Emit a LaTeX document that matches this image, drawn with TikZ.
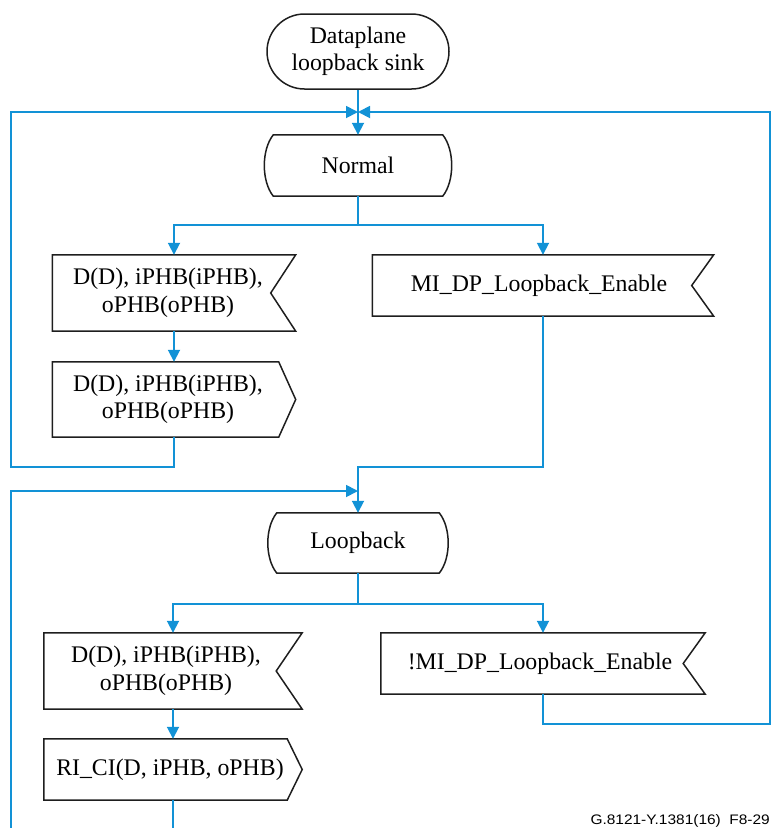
\documentclass[tikz,border=0pt]{standalone}
\usepackage{fontspec}
\usepackage{graphicx}
\setmainfont{Liberation Serif}
\newfontfamily\figidfont{Liberation Sans}
\usetikzlibrary{arrows.meta,calc,shapes.misc}
\definecolor{flowblue}{RGB}{18,146,214}
\definecolor{edgeblack}{RGB}{30,30,30}

\begin{document}
\begin{tikzpicture}[x=1pt,y=-1pt,
  every node/.style={font=\fontsize{23.8}{27.5}\selectfont, align=center, inner sep=0pt},
  area/.style={rectangle, draw=none},
  outline/.style={draw=edgeblack, line width=1.5pt, line join=miter},
  terminal/.style={rounded rectangle, outline},
  flow/.style={draw=flowblue, line width=1.8pt},
  arr/.style={flow, -{Triangle[length=12pt,width=12pt]}}]

\useasboundingbox (0,0) rectangle (771,828);

% start symbol
\node[terminal, minimum width=182pt, minimum height=75pt] (start) at (358,51.5) {Dataplane\\loopback sink};

% state Normal
\node[area, minimum width=169pt, minimum height=61pt] (normal) at (358,165.5) {Normal};
\draw[outline] (normal.north west) -- (normal.north east)
  .. controls +(12,15) and +(12,-15) .. (normal.south east)
  -- (normal.south west)
  .. controls +(-12,-15) and +(-12,15) .. (normal.north west) -- cycle;

% input D(D)... (Normal branch)
\node[area, minimum width=243pt, minimum height=76pt] (in1) at (174,293) {};
\node (in1t) at ($(in1)+(-6,0)$) {D(D), iPHB(iPHB),\\oPHB(oPHB)};
\draw[outline] (in1.north west) -- (in1.north east) -- ($(in1.east)+(-25,0)$)
  -- (in1.south east) -- (in1.south west) -- cycle;

% output D(D)...
\node[area, minimum width=243pt, minimum height=75pt] (out1) at (174,399.5) {};
\node (out1t) at ($(out1)+(-6,0)$) {D(D), iPHB(iPHB),\\oPHB(oPHB)};
\draw[outline] (out1.north west) -- ($(out1.north east)+(-17,0)$) -- (out1.east)
  -- ($(out1.south east)+(-17,0)$) -- (out1.south west) -- cycle;

% input MI_DP_Loopback_Enable
\node[area, minimum width=341pt, minimum height=61pt] (en) at (543,285.5) {};
\node (ent) at ($(en)+(-4,0)$) {MI\_DP\_Loopback\_Enable};
\draw[outline] (en.north west) -- (en.north east) -- ($(en.east)+(-22,0)$)
  -- (en.south east) -- (en.south west) -- cycle;

% state Loopback
\node[area, minimum width=162pt, minimum height=60pt] (loop) at (358,543) {Loopback};
\draw[outline] (loop.north west) -- (loop.north east)
  .. controls +(12,15) and +(12,-15) .. (loop.south east)
  -- (loop.south west)
  .. controls +(-12,-15) and +(-12,15) .. (loop.north west) -- cycle;

% input D(D)... (Loopback branch)
\node[area, minimum width=258pt, minimum height=76pt] (in2) at (173,671) {};
\node (in2t) at ($(in2)+(-7,0)$) {D(D), iPHB(iPHB),\\oPHB(oPHB)};
\draw[outline] (in2.north west) -- (in2.north east) -- ($(in2.east)+(-26,0)$)
  -- (in2.south east) -- (in2.south west) -- cycle;

% output RI_CI
\node[area, minimum width=258pt, minimum height=61pt] (out2) at (173,769.5) {};
\node (out2t) at ($(out2)+(-3,0)$) {RI\_CI(D, iPHB, oPHB)};
\draw[outline] (out2.north west) -- ($(out2.north east)+(-15,0)$) -- (out2.east)
  -- ($(out2.south east)+(-15,0)$) -- (out2.south west) -- cycle;

% input !MI_DP_Loopback_Enable
\node[area, minimum width=324pt, minimum height=61pt] (dis) at (543,663.5) {};
\node (dist) at ($(dis)+(-3,0)$) {!MI\_DP\_Loopback\_Enable};
\draw[outline] (dis.north west) -- (dis.north east) -- ($(dis.east)+(-22,0)$)
  -- (dis.south east) -- (dis.south west) -- cycle;

% connectors
\coordinate (merge1) at (358,112);
\coordinate (merge2) at (358,491);
\coordinate (entry) at (11,828);
\coordinate (exit) at (173,828);

\draw[arr] (start.south) -- (normal.north);
\draw[arr] (out1.south) -- ++(0,30) -| (11,112) -- (merge1);
\draw[arr] (dis.south) -- ++(0,30) -| (770,112) -- (merge1);

\draw[flow] (normal.south) -- ++(0,29) coordinate (split1);
\draw[arr] (split1) -| (in1.north);
\draw[arr] (split1) -| (en.north);
\draw[arr] (in1.south) -- (out1.north);
\draw[arr] (en.south) |- (358,467) -- (loop.north);

\draw[arr] (entry) -- (11,491) -- (merge2);
\draw[flow] (loop.south) -- ++(0,31) coordinate (split2);
\draw[arr] (split2) -| (in2.north);
\draw[arr] (split2) -| (dis.north);
\draw[arr] (in2.south) -- (out2.north);
\draw[flow] (out2.south) -- (exit);

% figure identifier
\node[anchor=base east, font=\figidfont\fontsize{13.8}{15}\selectfont] (figid) at (770,824)
  {\scalebox{1.12}[1]{G.8121-Y.1381(16)\ \ F8-29}};
\end{tikzpicture}
\end{document}
